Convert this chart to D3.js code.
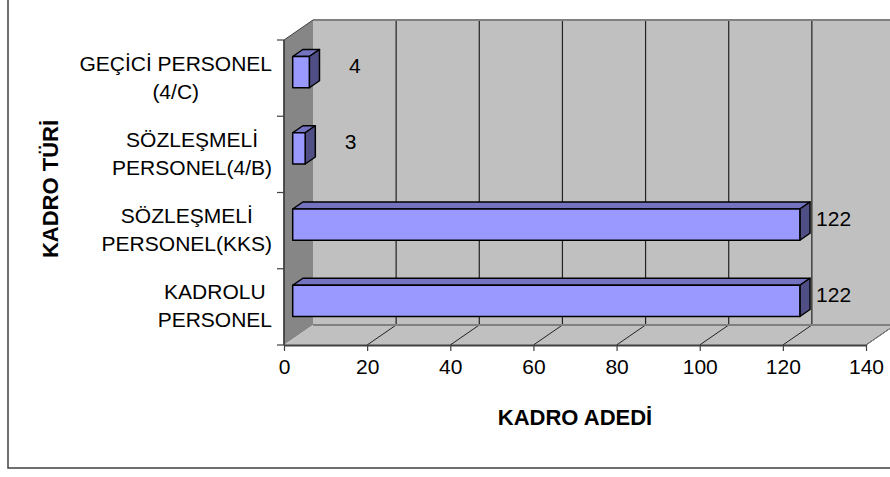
<!DOCTYPE html>
<html>
<head>
<meta charset="utf-8">
<script src="https://cdn.jsdelivr.net/npm/d3@7"></script>
<style>
  body { margin: 0; background: #fff; }
  svg { display: block; }
  text { font-family: "Liberation Sans", Arial, sans-serif; fill: #000; }
</style>
</head>
<body>
<svg id="chart" width="890" height="477"></svg>
<script>
// Staff counts by position type
const categories = ["GEÇİCİ PERSONEL (4/C)", "SÖZLEŞMELİ PERSONEL(4/B)", "SÖZLEŞMELİ PERSONEL(KKS)", "KADROLU PERSONEL"];
const categoryLines = [["GEÇİCİ PERSONEL", "(4/C)"], ["SÖZLEŞMELİ", "PERSONEL(4/B)"], ["SÖZLEŞMELİ", "PERSONEL(KKS)"], ["KADROLU", "PERSONEL"]];
const values = [4, 3, 122, 122];
const xTicks = [0, 20, 40, 60, 80, 100, 120, 140];
const xTitle = "KADRO ADEDİ";
const yTitle = "KADRO TÜRİ";

const svg = d3.select("#chart");

// 3D depth offset of the back wall
const DX = 29, DY = 20;
const x = d3.scaleLinear().domain([0, 140]).range([284, 866]);
const y = d3.scaleBand().domain(categories).range([40, 345]).paddingInner(0.59).paddingOuter(0.295);
const px = (v, z) => x(v) + z * DX;
const py = (yy, z) => yy - z * DY;
const yTop = 40, yBot = 345;
const line = d3.line();

// chart frame
svg.append("rect").attr("x", 8).attr("y", -5).attr("width", 900).attr("height", 473)
  .attr("fill", "#fff").attr("stroke", "#404040").attr("stroke-width", 1.5);

// back wall
svg.append("path").attr("d", line([[px(0,1),py(yTop,1)],[px(140,1),py(yTop,1)],[px(140,1),py(yBot,1)],[px(0,1),py(yBot,1)]]) + "Z")
  .attr("fill", "#c0c0c0");
// side wall
svg.append("path").attr("d", line([[px(0,0),yTop],[px(0,1),py(yTop,1)],[px(0,1),py(yBot,1)],[px(0,0),yBot]]) + "Z")
  .attr("fill", "#868686");
// floor
svg.append("path").attr("d", line([[px(0,0),yBot],[px(140,0),yBot],[px(140,1),py(yBot,1)],[px(0,1),py(yBot,1)]]) + "Z")
  .attr("fill", "#c0c0c0");

// gridlines on back wall and floor
const grid = svg.append("g");
xTicks.filter(t => t > 0).forEach(t => {
  grid.append("line").attr("x1", px(t,1)).attr("x2", px(t,1)).attr("y1", py(yTop,1)).attr("y2", py(yBot,1))
    .attr("stroke", "#222").attr("stroke-width", 1.2);
  grid.append("line").attr("x1", px(t,0)).attr("x2", px(t,1)).attr("y1", yBot).attr("y2", py(yBot,1))
    .attr("stroke", "#222").attr("stroke-width", 1);
});

// wall edges
svg.append("line").attr("x1", px(0,1)).attr("x2", px(140,1)+10).attr("y1", py(yTop,1)).attr("y2", py(yTop,1))
  .attr("stroke", "#808080").attr("stroke-width", 2);
svg.append("line").attr("x1", px(0,1)).attr("x2", px(140,1)).attr("y1", py(yBot,1)).attr("y2", py(yBot,1))
  .attr("stroke", "#808080").attr("stroke-width", 2);
svg.append("line").attr("x1", px(0,0)).attr("x2", px(0,1)).attr("y1", yTop).attr("y2", py(yTop,1))
  .attr("stroke", "#404040").attr("stroke-width", 1);
svg.append("line").attr("x1", px(140,0)).attr("x2", px(140,1)).attr("y1", yBot).attr("y2", py(yBot,1))
  .attr("stroke", "#808080").attr("stroke-width", 1);

// value axis
const xAxis = svg.append("g").attr("transform", `translate(0,${yBot})`)
  .call(d3.axisBottom(x).tickValues(xTicks).tickSize(6).tickSizeOuter(0).tickPadding(8));
xAxis.select(".domain").attr("stroke", "#404040").attr("stroke-width", 1.8);
xAxis.selectAll(".tick line").attr("stroke", "#404040").attr("stroke-width", 1.2);
xAxis.selectAll(".tick text").attr("font-size", 21).attr("font-family", "Liberation Sans, Arial, sans-serif")
  .attr("fill", "#000");

// category axis
svg.append("line").attr("x1", x(0)).attr("x2", x(0)).attr("y1", yTop).attr("y2", yBot)
  .attr("stroke", "#404040").attr("stroke-width", 1.8);
const step = y.step();
d3.range(categories.length + 1).forEach(i => {
  svg.append("line").attr("x1", x(0) - 7).attr("x2", x(0)).attr("y1", yTop + i * step).attr("y2", yTop + i * step)
    .attr("stroke", "#404040").attr("stroke-width", 1.2);
});

// bars
const z0 = 0.3, z1 = 0.65;
const bars = svg.append("g");
categories.forEach((c, i) => {
  const v = values[i];
  const t = y(c), b = y(c) + y.bandwidth();
  const g = bars.append("g").attr("stroke", "#000").attr("stroke-width", 1.5).attr("stroke-linejoin", "round");
  // top face
  g.append("path").attr("d", line([[px(0,z0),py(t,z0)],[px(v,z0),py(t,z0)],[px(v,z1),py(t,z1)],[px(0,z1),py(t,z1)]]) + "Z")
    .attr("fill", "#7373c0");
  // end face
  g.append("path").attr("d", line([[px(v,z0),py(t,z0)],[px(v,z1),py(t,z1)],[px(v,z1),py(b,z1)],[px(v,z0),py(b,z0)]]) + "Z")
    .attr("fill", "#4f4f86");
  // front face
  g.append("path").attr("d", line([[px(0,z0),py(t,z0)],[px(v,z0),py(t,z0)],[px(v,z0),py(b,z0)],[px(0,z0),py(b,z0)]]) + "Z")
    .attr("fill", "#9999ff");
});

// value labels
categories.forEach((c, i) => {
  const cy = y(c) + y.bandwidth() / 2;
  svg.append("text").attr("x", x(values[i]) + 60).attr("y", cy - 5)
    .attr("text-anchor", "end").attr("font-size", 21).text(values[i]);
});

// category labels: lines centred within a right-aligned block
categories.forEach((c, i) => {
  const cy = y(c) + y.bandwidth() / 2;
  const g = svg.append("g");
  const texts = categoryLines[i].map((s, j) => g.append("text").attr("font-size", 21)
    .attr("text-anchor", "middle").attr("y", cy - 7.5 + j * 28).text(s));
  const w = d3.max(texts, tx => tx.node().getComputedTextLength());
  texts.forEach(tx => tx.attr("x", 272 - w / 2));
});

// axis titles
svg.append("text").attr("x", 575).attr("y", 425).attr("text-anchor", "middle")
  .attr("font-size", 22).attr("font-weight", "bold").text(xTitle);
svg.append("text").attr("transform", "translate(58,189) rotate(-90)").attr("text-anchor", "middle")
  .attr("font-size", 22).attr("font-weight", "bold").text(yTitle);
</script>
</body>
</html>
